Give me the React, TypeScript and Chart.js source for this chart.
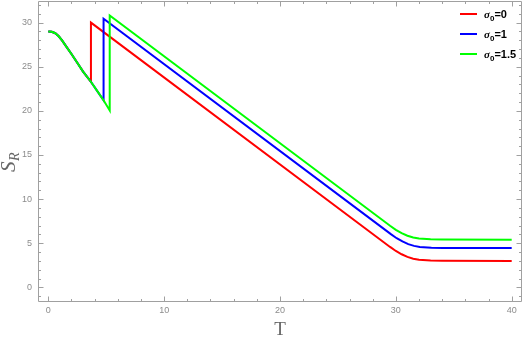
import React, { useEffect, useRef } from "react";
import { Chart, registerables } from "chart.js";

Chart.register(...registerables);

const seriesLabels = ["σ₀=0", "σ₀=1", "σ₀=1.5"];
const seriesColors = ["#ff0000", "#0000ff", "#00ff00"];

const redT = [0, 0.3, 0.6, 0.9, 1.2, 1.6, 2.0, 2.5, 3.0, 3.68, 3.68, 29.5, 30.0, 30.5, 31.0, 31.5, 32.0, 33.0, 34.0, 40];
const redS = [29.0, 28.97, 28.8, 28.45, 27.95, 27.2, 26.45, 25.45, 24.45, 23.3, 30.0, 4.58, 4.12, 3.75, 3.45, 3.25, 3.13, 3.04, 3.01, 3.0];

const blueT = [0, 0.3, 0.6, 0.9, 1.2, 1.6, 2.0, 2.5, 3.0, 3.68, 4.2, 4.77, 4.77, 29.57, 30.07, 30.57, 31.07, 31.57, 32.07, 33.07, 34.07, 40];
const blueS = [29.0, 28.97, 28.8, 28.45, 27.95, 27.2, 26.45, 25.45, 24.45, 23.3, 22.3, 21.2, 30.45, 6.03, 5.57, 5.2, 4.9, 4.7, 4.58, 4.49, 4.46, 4.45];

const greenT = [0, 0.3, 0.6, 0.9, 1.2, 1.6, 2.0, 2.5, 3.0, 3.68, 4.2, 4.77, 5.3, 5.3, 29.5, 30.0, 30.5, 31.0, 31.5, 32.0, 33.0, 34.0, 40];
const greenS = [29.0, 28.97, 28.8, 28.45, 27.95, 27.2, 26.45, 25.45, 24.45, 23.3, 22.3, 21.2, 20.05, 30.8, 6.98, 6.52, 6.15, 5.85, 5.65, 5.53, 5.44, 5.41, 5.4];

const xTicks = [0, 10, 20, 30, 40];
const yTicks = [0, 5, 10, 15, 20, 25, 30];
const xMinorStep = 2;
const yMinorStep = 1;
const xRange = [-0.89, 40.89];
const yRange = [-1.66, 32.45];
const xTitle = "T";
const yTitleMain = "S";
const yTitleSub = "R";

const FRAME = "#a0a0a0";
const LABEL = "#8c8c8c";

function pts(t: number[], s: number[]) {
  return t.map((x, i) => ({ x, y: s[i] }));
}

const framePlugin = {
  id: "mmaFrame",
  afterDraw(chart: any) {
    const { ctx, chartArea: a, scales } = chart;
    const xs = scales.x;
    const ys = scales.y;
    ctx.save();
    ctx.strokeStyle = FRAME;
    ctx.lineWidth = 1;
    const L = Math.round(a.left) + 0.5;
    const R = Math.round(a.right) - 0.5;
    const T = Math.round(a.top) + 0.5;
    const B = Math.round(a.bottom) - 0.5;
    ctx.beginPath();
    ctx.rect(L, T, R - L, B - T);
    ctx.stroke();
    ctx.beginPath();
    for (let v = 0; v <= 40 + 1e-9; v += xMinorStep) {
      const major = xTicks.includes(v);
      const len = major ? 5 : 2.5;
      const px = Math.round(xs.getPixelForValue(v)) + 0.5;
      ctx.moveTo(px, B);
      ctx.lineTo(px, B - len);
      ctx.moveTo(px, T);
      ctx.lineTo(px, T + len);
    }
    for (let v = -1; v <= 32 + 1e-9; v += yMinorStep) {
      const major = yTicks.includes(v);
      const len = major ? 5 : 2.5;
      const py = Math.round(ys.getPixelForValue(v)) + 0.5;
      ctx.moveTo(L, py);
      ctx.lineTo(L + len, py);
      ctx.moveTo(R, py);
      ctx.lineTo(R - len, py);
    }
    ctx.stroke();

    ctx.fillStyle = "#666666";
    ctx.textAlign = "center";
    ctx.textBaseline = "alphabetic";
    ctx.font = '19px "Liberation Serif"';
    ctx.fillText(xTitle, (a.left + a.right) / 2, 335);

    ctx.save();
    ctx.translate(15, 172);
    ctx.rotate(-Math.PI / 2);
    ctx.textAlign = "left";
    ctx.font = 'italic 21px "Liberation Serif"';
    ctx.fillText(yTitleMain, 0, 0);
    const w = ctx.measureText(yTitleMain).width;
    ctx.font = 'italic 14px "Liberation Serif"';
    ctx.fillText(yTitleSub, w + 0.5, 4);
    ctx.restore();

    chart.data.datasets.forEach((ds: any, i: number) => {
      const y = 14 + 20 * i;
      ctx.strokeStyle = ds.borderColor;
      ctx.lineWidth = 2;
      ctx.beginPath();
      ctx.moveTo(460, y);
      ctx.lineTo(477, y);
      ctx.stroke();
      ctx.fillStyle = "#000000";
      ctx.textAlign = "left";
      ctx.textBaseline = "alphabetic";
      let x = 484;
      const base = y + 4;
      for (const ch of String(ds.label)) {
        if (ch === "₀") {
          ctx.font = 'bold 8px "Liberation Sans"';
          ctx.fillText("0", x, base + 3);
          x += ctx.measureText("0").width;
        } else if (ch === "σ") {
          ctx.font = 'italic bold 11px "Liberation Serif"';
          ctx.fillText(ch, x, base);
          x += ctx.measureText(ch).width;
        } else {
          ctx.font = 'bold 11px "Liberation Sans"';
          ctx.fillText(ch, x, base);
          x += ctx.measureText(ch).width;
        }
      }
    });
    ctx.restore();
  },
};

export default function App() {
  const ref = useRef<HTMLCanvasElement | null>(null);
  useEffect(() => {
    if (!ref.current) return;
    const seriesT = [redT, blueT, greenT];
    const seriesS = [redS, blueS, greenS];
    const chart = new Chart(ref.current, {
      type: "line",
      data: {
        datasets: seriesLabels.map((label, i) => ({
          label,
          data: pts(seriesT[i], seriesS[i]),
          borderColor: seriesColors[i],
          backgroundColor: seriesColors[i],
          borderWidth: 2,
          pointRadius: 0,
          tension: 0,
          fill: false,
          order: 2 - i,
        })),
      },
      options: {
        animation: false,
        responsive: false,
        devicePixelRatio: 1,
        layout: { padding: { top: 1, right: 6, left: 0, bottom: 0 } },
        plugins: { legend: { display: false }, tooltip: { enabled: false } },
        scales: {
          x: {
            type: "linear",
            min: xRange[0],
            max: xRange[1],
            afterBuildTicks: (s: any) => {
              s.ticks = xTicks.map((v) => ({ value: v }));
            },
            afterFit: (s: any) => {
              s.height = 42;
              s.paddingLeft = 0;
              s.paddingRight = 0;
            },
            grid: { display: false, drawTicks: false },
            border: { display: false },
            ticks: {
              color: LABEL,
              font: { size: 9, family: "Liberation Sans" },
              padding: 3,
              maxRotation: 0,
              autoSkip: false,
            },
          },
          y: {
            type: "linear",
            min: yRange[0],
            max: yRange[1],
            afterBuildTicks: (s: any) => {
              s.ticks = yTicks.map((v) => ({ value: v }));
            },
            afterFit: (s: any) => {
              s.width = 38;
              s.paddingTop = 0;
              s.paddingBottom = 0;
            },
            grid: { display: false, drawTicks: false },
            border: { display: false },
            ticks: {
              color: LABEL,
              font: { size: 9, family: "Liberation Sans" },
              padding: 6,
              autoSkip: false,
            },
          },
        },
      },
      plugins: [framePlugin],
    });
    return () => chart.destroy();
  }, []);
  return (
    <div style={{ position: "fixed", left: 0, top: 0, width: 528, height: 344, background: "#fff" }}>
      <canvas ref={ref} width={528} height={344} style={{ display: "block" }} />
    </div>
  );
}
